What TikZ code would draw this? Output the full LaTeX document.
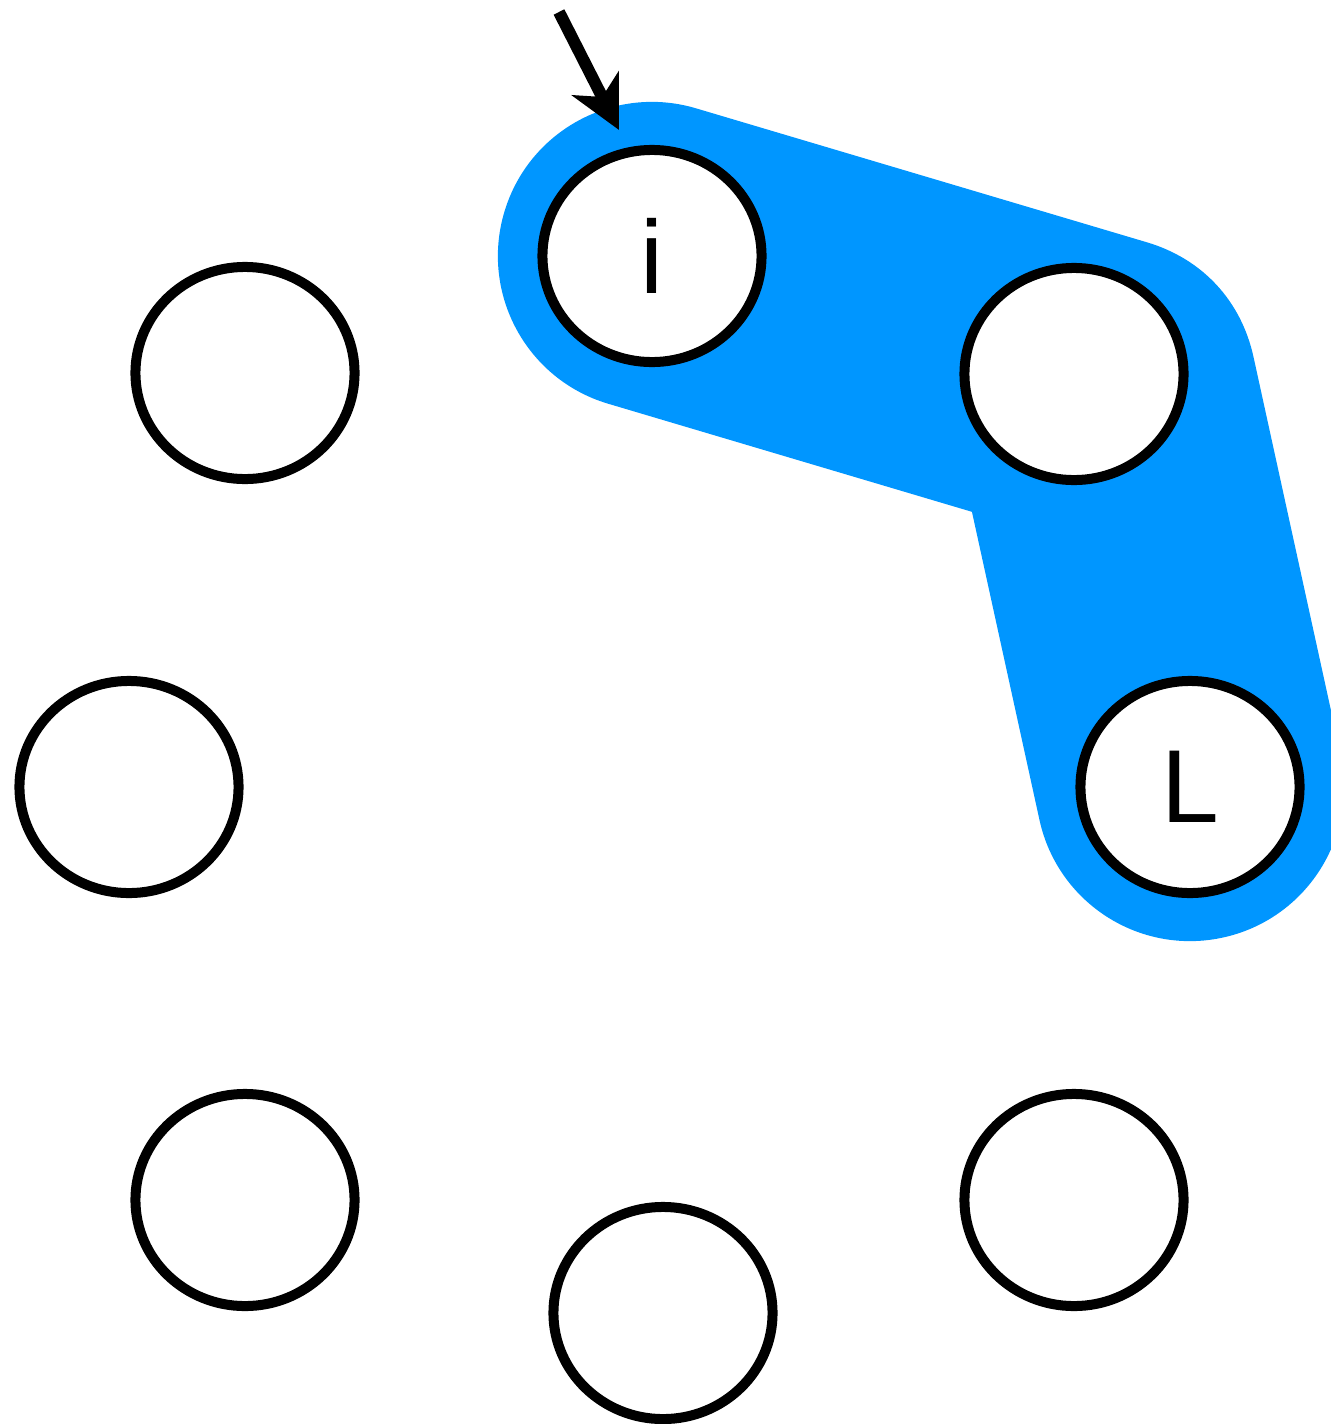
\documentclass[tikz,border=0pt]{standalone}
\usepackage{fontspec}
\setmainfont{Liberation Sans}
\usetikzlibrary{arrows.meta,shapes.geometric,backgrounds}
\definecolor{ringblue}{RGB}{0,150,255}

\begin{document}
\begin{tikzpicture}[
  x=.01cm,y=-.01cm,
  font=\fontsize{29.5}{34}\selectfont,
  slot/.style={ellipse,draw=black,fill=white,line width=1mm,minimum width=2.19cm,minimum height=2.12cm,inner sep=0pt},
  walk/.style={ringblue,line width=3.08cm,line cap=round,line join=round},
  pointer/.style={-{Stealth[length=5.2mm,width=5.2mm,inset=1.5mm]},black,line width=1.2mm}
]
\useasboundingbox (0,0) rectangle (1330,1424);
\node[slot] (i) at (652,256) {i};
\node[slot] (right) at (1074,374) {};
\node[slot] (L) at (1190,787) {L};
\node[slot] (lowright) at (1074,1200) {};
\node[slot] (bottom) at (663,1313) {};
\node[slot] (lowleft) at (245,1200) {};
\node[slot] (left) at (129,787) {};
\node[slot] (upleft) at (245,373) {};
\coordinate (bend) at (1103,390);
\begin{scope}[on background layer]
  \draw[walk] (i.center) -- (bend) -- (L.center);
\end{scope}
\coordinate (tail) at (559,12);
\coordinate (tip) at (619,130);
\draw[pointer] (tail) -- (tip);
\end{tikzpicture}
\end{document}
